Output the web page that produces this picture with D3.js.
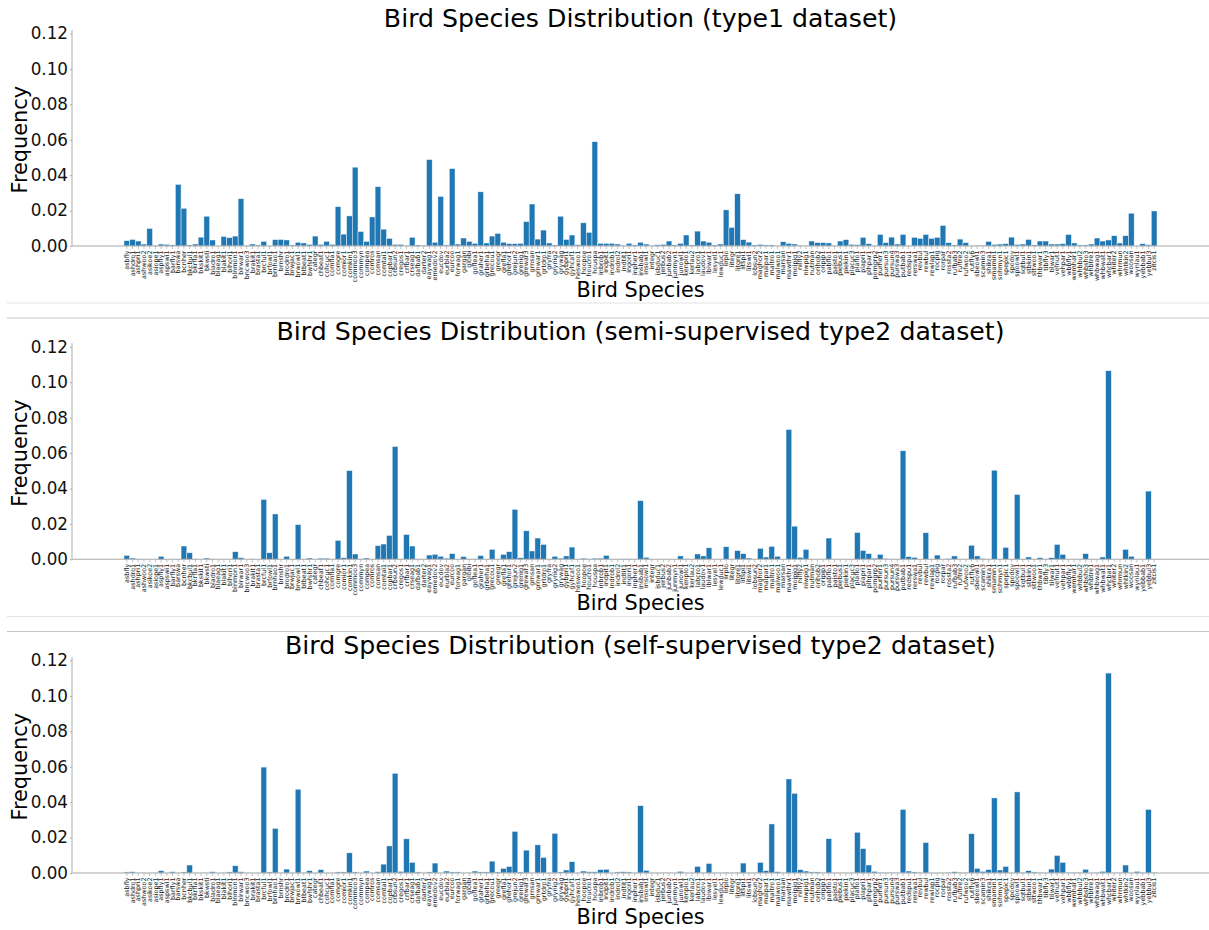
<!DOCTYPE html>
<html>
<head>
<meta charset="utf-8">
<script src="https://cdn.jsdelivr.net/npm/d3@7"></script>
<style>
  html, body { margin: 0; padding: 0; background: #fff; }
  svg { display: block; font-family: "DejaVu Sans", sans-serif; }
</style>
</head>
<body>
<svg id="chart" width="1209" height="930"></svg>
<script>
const species = ["asbfly","ashdro1","ashpri1","ashwoo2","asikoe2","asiope1","aspfly1","aspswi1","barfly1","barswa","bcnher","bkcbul1","bkrfla1","bkskit1","bkwsti","bladro1","blaeag1","blakit1","blhori1","blnmon1","blrwar1","bncwoo3","brakit1","brasta1","brcful1","brfowl1","brnhao1","brnshr","brodro1","brwjac1","brwowl1","btbeat1","bwfshr1","categr","chbeat1","cohcuc1","comfla1","comgre","comior1","comkin1","commoo3","commyn","compea","comros","comsan","comtai1","copbar1","crbsun2","cregos1","crfbar1","crseag1","dafbab1","darter2","eaywag1","emedov2","eucdov","eurbla2","eurcoo","forwag1","gargan","gloibi","goflea1","graher1","grbeha1","grecou1","greegr","grefla1","grehor1","grejun2","grenig1","grewar3","grnsan","grnwar1","grtdro1","gryfra","grynig2","grywag","gybpri1","gyhcaf1","heswoo1","hoopoe","houcro1","houspa","inbrob1","indpit1","indrob1","indrol2","indtit1","ingori1","inpher1","insbab1","insowl1","integr","isbduc1","jerbus2","junbab2","junmyn1","junowl1","kenplo1","kerlau2","labcro1","laudov1","lblwar1","lesyel1","lewduc1","lirplo","litegr","litgre1","litspi1","litswi1","lobsun2","maghor2","malpar1","maltro1","malwoo1","marsan","mawthr1","moipig1","nilfly2","niwpig1","nutman","orihob2","oripip1","pabflo1","paisto1","piebus1","piekin1","placuc3","plaflo1","plapri1","plhpar1","pomgrp2","purher1","pursun3","pursun4","purswa3","putbab1","redspu1","rerswa1","revbul","rewbul","rewlap1","rocpig","rorpar","rossta2","rufbab3","ruftre2","rufwoo2","rutfly6","sbeowl1","scamin3","shikra1","smamin1","sohmyn1","spepic1","spodov","spoowl1","sqtbul1","stbkin1","sttwoo1","thbwar1","tibfly3","tilwar1","vefnut1","vehpar1","wbbfly1","wemhar1","whbbul2","whbsho3","whbtre1","whbwag1","whbwat1","whcbar1","whiter2","whrmun","whtkin2","woosan","wynlau1","yebbab1","yebbul3","zitcis1"];

const type1Freq = [0.0030,0.0037,0.0028,0.0011,0.0099,0.0004,0.0011,0.0009,0.0006,0.0348,
0.0213,0.0006,0.0011,0.0050,0.0168,0.0034,0.0002,0.0054,0.0047,0.0056,
0.0267,0.0004,0.0011,0.0006,0.0026,0.0002,0.0036,0.0037,0.0034,0.0006,
0.0021,0.0017,0.0009,0.0056,0.0009,0.0026,0.0009,0.0222,0.0067,0.0170,
0.0445,0.0082,0.0026,0.0164,0.0335,0.0095,0.0043,0.0009,0.0009,0.0004,
0.0049,0.0006,0.0004,0.0488,0.0021,0.0280,0.0006,0.0437,0.0011,0.0045,
0.0026,0.0015,0.0306,0.0017,0.0056,0.0071,0.0021,0.0013,0.0013,0.0015,
0.0138,0.0237,0.0039,0.0090,0.0017,0.0006,0.0168,0.0037,0.0062,0.0007,
0.0131,0.0077,0.0589,0.0015,0.0015,0.0015,0.0011,0.0004,0.0015,0.0006,
0.0021,0.0011,0.0004,0.0007,0.0009,0.0028,0.0006,0.0015,0.0062,0.0006,
0.0084,0.0028,0.0021,0.0006,0.0011,0.0204,0.0105,0.0295,0.0036,0.0022,
0.0006,0.0009,0.0006,0.0006,0.0002,0.0024,0.0015,0.0011,0.0004,0.0001,
0.0028,0.0019,0.0019,0.0017,0.0004,0.0028,0.0036,0.0009,0.0007,0.0049,
0.0013,0.0004,0.0065,0.0019,0.0050,0.0011,0.0065,0.0004,0.0049,0.0043,
0.0065,0.0043,0.0049,0.0116,0.0019,0.0006,0.0039,0.0019,0.0002,0.0004,
0.0004,0.0026,0.0009,0.0011,0.0013,0.0050,0.0009,0.0011,0.0037,0.0006,
0.0028,0.0028,0.0011,0.0011,0.0013,0.0065,0.0017,0.0006,0.0006,0.0011,
0.0045,0.0028,0.0034,0.0058,0.0017,0.0058,0.0185,0.0002,0.0013,0.0007,
0.0198];

const semiFreq = [0.0022,0.0007,0.0002,0.0001,0.0001,0.0000,0.0017,0.0001,0.0001,0.0001,
0.0075,0.0037,0.0002,0.0001,0.0007,0.0002,0.0000,0.0001,0.0001,0.0043,
0.0009,0.0000,0.0002,0.0001,0.0338,0.0037,0.0256,0.0001,0.0017,0.0001,
0.0196,0.0001,0.0007,0.0001,0.0006,0.0006,0.0001,0.0107,0.0009,0.0501,
0.0030,0.0002,0.0007,0.0001,0.0077,0.0086,0.0135,0.0637,0.0002,0.0140,
0.0075,0.0002,0.0001,0.0024,0.0028,0.0017,0.0006,0.0032,0.0001,0.0015,
0.0002,0.0002,0.0021,0.0001,0.0056,0.0001,0.0028,0.0043,0.0282,0.0009,
0.0161,0.0047,0.0120,0.0084,0.0001,0.0017,0.0006,0.0019,0.0069,0.0001,
0.0006,0.0002,0.0006,0.0006,0.0022,0.0001,0.0001,0.0002,0.0002,0.0001,
0.0331,0.0011,0.0001,0.0001,0.0001,0.0001,0.0001,0.0019,0.0002,0.0001,
0.0030,0.0019,0.0065,0.0001,0.0001,0.0071,0.0001,0.0049,0.0032,0.0007,
0.0001,0.0062,0.0013,0.0073,0.0017,0.0001,0.0733,0.0187,0.0011,0.0056,
0.0001,0.0001,0.0001,0.0120,0.0001,0.0001,0.0001,0.0001,0.0151,0.0050,
0.0032,0.0006,0.0028,0.0004,0.0001,0.0001,0.0613,0.0015,0.0011,0.0001,
0.0150,0.0001,0.0024,0.0001,0.0004,0.0019,0.0001,0.0001,0.0079,0.0019,
0.0004,0.0001,0.0503,0.0002,0.0067,0.0001,0.0366,0.0002,0.0013,0.0001,
0.0009,0.0002,0.0009,0.0084,0.0028,0.0001,0.0001,0.0002,0.0032,0.0001,
0.0001,0.0013,0.1065,0.0001,0.0001,0.0056,0.0017,0.0001,0.0001,0.0385,
0.0001];

const selfFreq = [0.0006,0.0007,0.0002,0.0002,0.0002,0.0002,0.0013,0.0002,0.0007,0.0002,
0.0006,0.0045,0.0002,0.0002,0.0001,0.0007,0.0002,0.0002,0.0006,0.0041,
0.0007,0.0002,0.0002,0.0001,0.0598,0.0006,0.0252,0.0002,0.0022,0.0002,
0.0473,0.0002,0.0013,0.0002,0.0019,0.0002,0.0002,0.0006,0.0006,0.0114,
0.0006,0.0002,0.0011,0.0002,0.0007,0.0050,0.0153,0.0563,0.0009,0.0193,
0.0060,0.0006,0.0002,0.0006,0.0056,0.0002,0.0011,0.0006,0.0006,0.0002,
0.0002,0.0011,0.0006,0.0006,0.0067,0.0006,0.0026,0.0037,0.0235,0.0006,
0.0129,0.0002,0.0159,0.0088,0.0002,0.0224,0.0006,0.0017,0.0064,0.0002,
0.0011,0.0007,0.0007,0.0019,0.0021,0.0002,0.0006,0.0007,0.0006,0.0002,
0.0380,0.0015,0.0001,0.0001,0.0001,0.0001,0.0001,0.0009,0.0001,0.0001,
0.0037,0.0001,0.0054,0.0001,0.0001,0.0004,0.0001,0.0004,0.0056,0.0001,
0.0001,0.0060,0.0013,0.0277,0.0007,0.0001,0.0531,0.0450,0.0019,0.0011,
0.0006,0.0006,0.0001,0.0194,0.0001,0.0001,0.0001,0.0001,0.0230,0.0138,
0.0045,0.0009,0.0004,0.0004,0.0004,0.0001,0.0359,0.0011,0.0006,0.0004,
0.0172,0.0001,0.0001,0.0001,0.0004,0.0007,0.0004,0.0004,0.0222,0.0026,
0.0009,0.0019,0.0424,0.0017,0.0037,0.0001,0.0458,0.0004,0.0013,0.0006,
0.0004,0.0001,0.0022,0.0099,0.0060,0.0004,0.0004,0.0004,0.0021,0.0001,
0.0004,0.0009,0.1129,0.0001,0.0001,0.0045,0.0001,0.0009,0.0004,0.0359,
0.0004];

const yTicks = [0.00, 0.02, 0.04, 0.06, 0.08, 0.10, 0.12];

const titles = [
  "Bird Species Distribution (type1 dataset)",
  "Bird Species Distribution (semi-supervised type2 dataset)",
  "Bird Species Distribution (self-supervised type2 dataset)"
];
const seriesList = [type1Freq, semiFreq, selfFreq];
const xTitle = "Bird Species";
const yTitle = "Frequency";

const svg = d3.select("#chart");
const axLeft = 72, axRight = 1209;
const barLeft = 124, barRight = 1157;
const panelOffsets = [0, 313.3, 627];

function drawPanel(idx) {
  const dy = panelOffsets[idx];
  const base = 246 + dy, top = 33.5 + dy;
  const g = svg.append("g");
  const vals = seriesList[idx];

  const x = d3.scaleBand().domain(species).range([barLeft, barRight]).paddingInner(0).paddingOuter(0);
  const y = d3.scaleLinear().domain([0, 0.12]).range([base, top]);

  // bars
  g.append("g").selectAll("rect").data(species).join("rect")
    .attr("x", d => x(d))
    .attr("width", x.bandwidth())
    .attr("y", (d, i) => y(vals[i]))
    .attr("height", (d, i) => base - y(vals[i]))
    .attr("fill", "#1f77b4")
    .attr("stroke", "#ffffff")
    .attr("stroke-width", 0.6)
    .attr("stroke-opacity", 0.75);

  // x axis
  const xAxis = g.append("g").attr("transform", `translate(0,${base})`)
    .call(d3.axisBottom(x).tickSize(3).tickSizeOuter(0));
  xAxis.select(".domain").remove();
  xAxis.selectAll(".tick line").attr("stroke", "#999").attr("stroke-width", 0.6);
  xAxis.selectAll(".tick text")
    .attr("transform", "rotate(-90)")
    .attr("x", -4.5).attr("y", 0).attr("dy", "0.33em")
    .style("text-anchor", "end")
    .style("font-size", "6.4px")
    .style("font-family", "DejaVu Sans")
    .attr("fill", "#222");
  g.append("line").attr("x1", axLeft).attr("x2", axRight).attr("y1", base).attr("y2", base)
    .attr("stroke", "#aaaaaa").attr("stroke-width", 1.1);

  // y axis
  const yAxis = g.append("g").attr("transform", `translate(${axLeft},0)`)
    .call(d3.axisLeft(y).tickValues(yTicks).tickFormat(d3.format(".2f")).tickSize(2).tickPadding(2).tickSizeOuter(0));
  yAxis.select(".domain").remove();
  yAxis.selectAll(".tick line").attr("stroke", "#aaa");
  yAxis.selectAll(".tick text").style("font-size", "16.8px").style("font-family", "DejaVu Sans").attr("fill", "#111");
  g.append("line").attr("x1", axLeft).attr("x2", axLeft).attr("y1", base).attr("y2", top - 3.5)
    .attr("stroke", "#b5b5b5").attr("stroke-width", 1.1);

  // titles
  g.append("text").attr("x", (axLeft + axRight) / 2).attr("y", 27 + dy)
    .attr("text-anchor", "middle").style("font-size", "25.2px").attr("fill", "#000").text(titles[idx]);
  g.append("text").attr("x", (axLeft + axRight) / 2).attr("y", 297 + dy)
    .attr("text-anchor", "middle").style("font-size", "20.8px").attr("fill", "#000").text(xTitle);
  g.append("text").attr("transform", `translate(27,${(base + top) / 2}) rotate(-90)`)
    .attr("text-anchor", "middle").style("font-size", "20.8px").attr("fill", "#000").text(yTitle);
}

[0, 1, 2].forEach(drawPanel);

// separator lines between panels
[[303, "#e2e2e2"], [318, "#c4c4c4"], [616.5, "#e2e2e2"], [631.5, "#c4c4c4"]].forEach(([yy, c]) => {
  svg.append("line").attr("x1", 7).attr("x2", 1209).attr("y1", yy).attr("y2", yy)
    .attr("stroke", c).attr("stroke-width", 1);
});
</script>
</body>
</html>
